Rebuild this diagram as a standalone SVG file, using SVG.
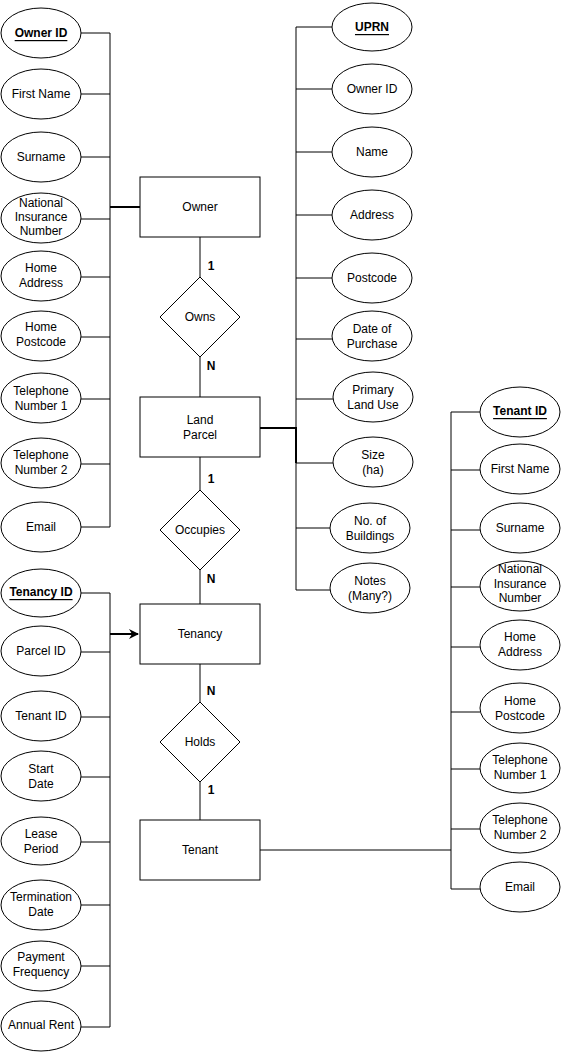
<svg xmlns="http://www.w3.org/2000/svg" width="561" height="1052" viewBox="0 0 561 1052">
<defs>
<style>
text{font-family:"Liberation Sans",Arial,sans-serif;font-size:12px;fill:#000;text-anchor:middle;dominant-baseline:central}
.key{font-weight:bold;text-decoration:underline}
.card{font-weight:bold}
ellipse,.e,polygon{fill:#fff;stroke:#000;stroke-width:1}
.c{stroke:#000;stroke-width:1;fill:none}
.t{stroke:#000;stroke-width:2;fill:none}
</style>
<marker id="arr" viewBox="0 0 10 10" refX="9" refY="5" markerWidth="5" markerHeight="5" orient="auto" markerUnits="strokeWidth">
<path d="M0,0 L10,5 L0,10 L3,5 z" fill="#000"/>
</marker>
</defs>
<rect x="0" y="0" width="561" height="1052" fill="#fff"/>
<g id="connectors">
<path class="c" d="M110,33V527 M81,33H110 M81,94H110 M81,157H110 M81,219H110 M81,277H110 M81,337H110 M81,399H110 M81,464H110 M81,527H110"/>
<path class="t" d="M110,207H140"/>
<path class="c" d="M296,27V590 M296,27H332 M296,89H332 M296,152H332 M296,215H332 M296,278H332 M296,339H332 M296,399H333 M296,463H333 M296,528H330 M296,590H330"/>
<path class="t" d="M260,428H296V463"/>
<path class="c" d="M110,593V1027 M81,593H110 M81,652H110 M81,717H110 M81,777H110 M81,842H110 M81,905H110 M81,966H110 M81,1027H110"/>
<path class="t" d="M110,634H138" marker-end="url(#arr)"/>
<path class="c" d="M451,412V889 M451,412H480 M451,470H480 M451,530H480 M451,587H480 M451,647H480 M451,712H480 M451,769H480 M451,829H480 M451,889H480"/>
<path class="c" d="M260,850H451"/>
<path class="c" d="M200,237V277 M200,357V397 M200,457V490 M200,570V604 M200,664V702 M200,782V820"/>
<text class="card" x="211" y="266">1</text>
<text class="card" x="211" y="366">N</text>
<text class="card" x="211" y="479">1</text>
<text class="card" x="211" y="579">N</text>
<text class="card" x="211" y="691">N</text>
<text class="card" x="211" y="790">1</text>
</g>
<g id="owner"><rect class="e" x="140" y="177" width="120" height="60"/><text x="200" y="207">Owner</text></g>
<g id="land-parcel"><rect class="e" x="140" y="397" width="120" height="60"/><text x="200" y="420">Land</text><text x="200" y="435">Parcel</text></g>
<g id="tenancy"><rect class="e" x="140" y="604" width="120" height="60"/><text x="200" y="634">Tenancy</text></g>
<g id="tenant"><rect class="e" x="140" y="820" width="120" height="60"/><text x="200" y="850">Tenant</text></g>
<g id="owns"><polygon points="200,277 240,317 200,357 160,317"/><text x="200" y="317">Owns</text></g>
<g id="occupies"><polygon points="200,490 240,530 200,570 160,530"/><text x="200" y="530">Occupies</text></g>
<g id="holds"><polygon points="200,702 240,742 200,782 160,742"/><text x="200" y="742">Holds</text></g>

<g id="owner-id"><ellipse cx="41" cy="33" rx="40" ry="25"/><text class="key" x="41" y="33">Owner ID</text></g>
<g id="owner-first-name"><ellipse cx="41" cy="94" rx="40" ry="25"/><text x="41" y="94">First Name</text></g>
<g id="owner-surname"><ellipse cx="41" cy="157" rx="40" ry="25"/><text x="41" y="157">Surname</text></g>
<g id="owner-nin"><ellipse cx="41" cy="218" rx="40" ry="25"/><text x="41" y="203">National</text><text x="41" y="217">Insurance</text><text x="41" y="231">Number</text></g>
<g id="owner-home-address"><ellipse cx="41" cy="276" rx="40" ry="25"/><text x="41" y="268">Home</text><text x="41" y="283">Address</text></g>
<g id="owner-home-postcode"><ellipse cx="41" cy="336" rx="40" ry="25"/><text x="41" y="327">Home</text><text x="41" y="342">Postcode</text></g>
<g id="owner-tel1"><ellipse cx="41" cy="398" rx="40" ry="25"/><text x="41" y="391">Telephone</text><text x="41" y="406">Number 1</text></g>
<g id="owner-tel2"><ellipse cx="41" cy="463" rx="40" ry="25"/><text x="41" y="455">Telephone</text><text x="41" y="470">Number 2</text></g>
<g id="owner-email"><ellipse cx="41" cy="527" rx="40" ry="25"/><text x="41" y="527">Email</text></g>

<g id="uprn"><ellipse cx="372" cy="27" rx="40" ry="24"/><text class="key" x="372" y="27">UPRN</text></g>
<g id="lp-owner-id"><ellipse cx="372" cy="89" rx="40" ry="25"/><text x="372" y="89">Owner ID</text></g>
<g id="lp-name"><ellipse cx="372" cy="152" rx="40" ry="25"/><text x="372" y="152">Name</text></g>
<g id="lp-address"><ellipse cx="372" cy="215" rx="40" ry="25"/><text x="372" y="215">Address</text></g>
<g id="lp-postcode"><ellipse cx="372" cy="278" rx="40" ry="25"/><text x="372" y="278">Postcode</text></g>
<g id="lp-date-of-purchase"><ellipse cx="372" cy="336" rx="40" ry="25"/><text x="372" y="329">Date of</text><text x="372" y="344">Purchase</text></g>
<g id="lp-primary-land-use"><ellipse cx="373" cy="397" rx="40" ry="25"/><text x="373" y="390">Primary</text><text x="373" y="405">Land Use</text></g>
<g id="lp-size"><ellipse cx="373" cy="462" rx="40" ry="25"/><text x="373" y="455">Size</text><text x="373" y="470">(ha)</text></g>
<g id="lp-buildings"><ellipse cx="370" cy="528" rx="40" ry="25"/><text x="370" y="521">No. of</text><text x="370" y="536">Buildings</text></g>
<g id="lp-notes"><ellipse cx="370" cy="588" rx="40" ry="25"/><text x="370" y="581">Notes</text><text x="370" y="596">(Many?)</text></g>

<g id="tenancy-id"><ellipse cx="41" cy="593" rx="40" ry="24"/><text class="key" x="41" y="592">Tenancy ID</text></g>
<g id="tn-parcel-id"><ellipse cx="41" cy="651" rx="40" ry="25"/><text x="41" y="651">Parcel ID</text></g>
<g id="tn-tenant-id"><ellipse cx="41" cy="716" rx="40" ry="25"/><text x="41" y="716">Tenant ID</text></g>
<g id="tn-start-date"><ellipse cx="41" cy="776" rx="40" ry="25"/><text x="41" y="769">Start</text><text x="41" y="784">Date</text></g>
<g id="tn-lease-period"><ellipse cx="41" cy="841" rx="40" ry="24"/><text x="41" y="834">Lease</text><text x="41" y="849">Period</text></g>
<g id="tn-termination-date"><ellipse cx="41" cy="905" rx="40" ry="25"/><text x="41" y="897">Termination</text><text x="41" y="912">Date</text></g>
<g id="tn-payment-frequency"><ellipse cx="41" cy="966" rx="40" ry="25"/><text x="41" y="957">Payment</text><text x="41" y="972">Frequency</text></g>
<g id="tn-annual-rent"><ellipse cx="41" cy="1026" rx="40" ry="25"/><text x="41" y="1025">Annual Rent</text></g>

<g id="tenant-id"><ellipse cx="520" cy="412" rx="40" ry="25"/><text class="key" x="520" y="411">Tenant ID</text></g>
<g id="t-first-name"><ellipse cx="520" cy="469" rx="40" ry="25"/><text x="520" y="469">First Name</text></g>
<g id="t-surname"><ellipse cx="520" cy="528" rx="40" ry="25"/><text x="520" y="528">Surname</text></g>
<g id="t-nin"><ellipse cx="520" cy="586" rx="40" ry="25"/><text x="520" y="569">National</text><text x="520" y="584">Insurance</text><text x="520" y="598">Number</text></g>
<g id="t-home-address"><ellipse cx="520" cy="645" rx="40" ry="25"/><text x="520" y="637">Home</text><text x="520" y="652">Address</text></g>
<g id="t-home-postcode"><ellipse cx="520" cy="708" rx="40" ry="25"/><text x="520" y="701">Home</text><text x="520" y="716">Postcode</text></g>
<g id="t-tel1"><ellipse cx="520" cy="768" rx="40" ry="25"/><text x="520" y="760">Telephone</text><text x="520" y="775">Number 1</text></g>
<g id="t-tel2"><ellipse cx="520" cy="828" rx="40" ry="25"/><text x="520" y="820">Telephone</text><text x="520" y="835">Number 2</text></g>
<g id="t-email"><ellipse cx="520" cy="887" rx="40" ry="25"/><text x="520" y="887">Email</text></g>
</svg>
